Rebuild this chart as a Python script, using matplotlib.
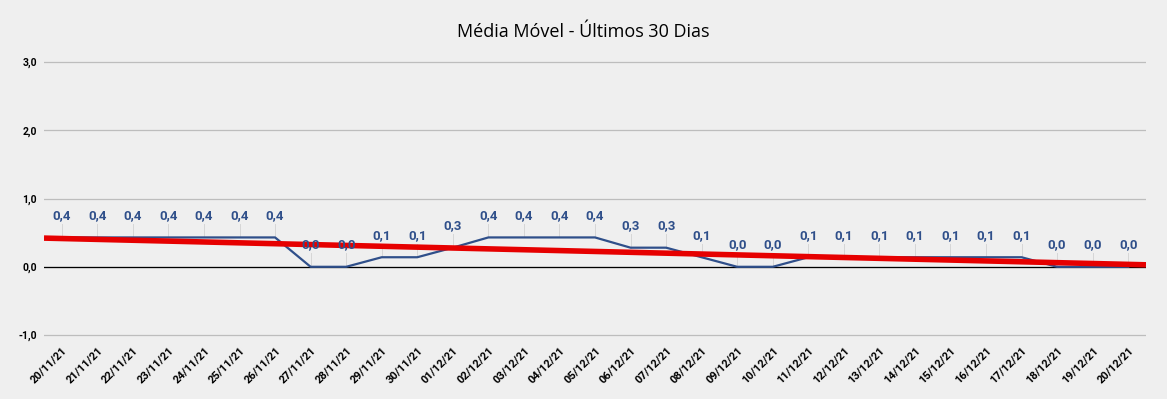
import numpy as np
import matplotlib.pyplot as plt

plt.rcParams['font.family'] = ['Roboto', 'DejaVu Sans']

dates = ['20/11/21', '21/11/21', '22/11/21', '23/11/21', '24/11/21', '25/11/21',
         '26/11/21', '27/11/21', '28/11/21', '29/11/21', '30/11/21', '01/12/21',
         '02/12/21', '03/12/21', '04/12/21', '05/12/21', '06/12/21', '07/12/21',
         '08/12/21', '09/12/21', '10/12/21', '11/12/21', '12/12/21', '13/12/21',
         '14/12/21', '15/12/21', '16/12/21', '17/12/21', '18/12/21', '19/12/21',
         '20/12/21']
media = [0.43, 0.43, 0.43, 0.43, 0.43, 0.43, 0.43, 0.0, 0.0, 0.14, 0.14, 0.28,
         0.43, 0.43, 0.43, 0.43, 0.28, 0.28, 0.14, 0.0, 0.0, 0.14, 0.14, 0.14,
         0.14, 0.14, 0.14, 0.14, 0.0, 0.0, 0.0]

bg = '#efefef'
blue = '#2f4f8a'
x = np.arange(len(dates))

fig = plt.figure(figsize=(11.67, 3.99), dpi=100, facecolor=bg)
ax = fig.add_axes([0.0377, 0.155, 0.9443, 0.695], facecolor=bg)

ax.plot(x, media, color=blue, lw=1.6, zorder=3)

# linear trend line, like the spreadsheet one
k, b = np.polyfit(x, media, 1)
ax.plot([-0.5, len(dates) - 0.5], [k * -0.5 + b, k * (len(dates) - 0.5) + b],
        color='#e60000', lw=4, zorder=4, solid_capstyle='butt')

for xi, v in zip(x, media):
    ax.plot([xi, xi], [v, v + 0.2], color='#d6d6d6', lw=0.7, zorder=2)
    ax.annotate(f'{v:.1f}'.replace('.', ','), (xi, v), xytext=(0, 11),
                textcoords='offset points', ha='center', va='bottom',
                fontsize=9.5, fontweight='bold', color=blue, zorder=5)

ax.set_xlim(-0.5, len(dates) - 0.5)
ax.set_ylim(-1.03, 3.03)
ax.set_yticks([-1, 0, 1, 2, 3])
ax.set_yticklabels(['-1,0', '0,0', '1,0', '2,0', '3,0'], fontsize=7.5, fontweight='bold')
ax.set_xticks(x)
ax.set_xticklabels(dates, rotation=45, ha='right', rotation_mode='anchor',
                   fontsize=8, fontweight='bold')
ax.tick_params(length=0, pad=5)
ax.tick_params(axis='x', pad=6)
ax.grid(axis='y', color='#bdbdbd', lw=0.9)
ax.axhline(0, color='black', lw=0.9, zorder=2)
for s in ax.spines.values():
    s.set_visible(False)

fig.text(0.5, 0.92, 'Média Móvel - Últimos 30 Dias', ha='center', va='center',
         fontsize=13, family=['Open Sans', 'DejaVu Sans'])

fig.savefig('out.png', dpi=100, facecolor=bg)
